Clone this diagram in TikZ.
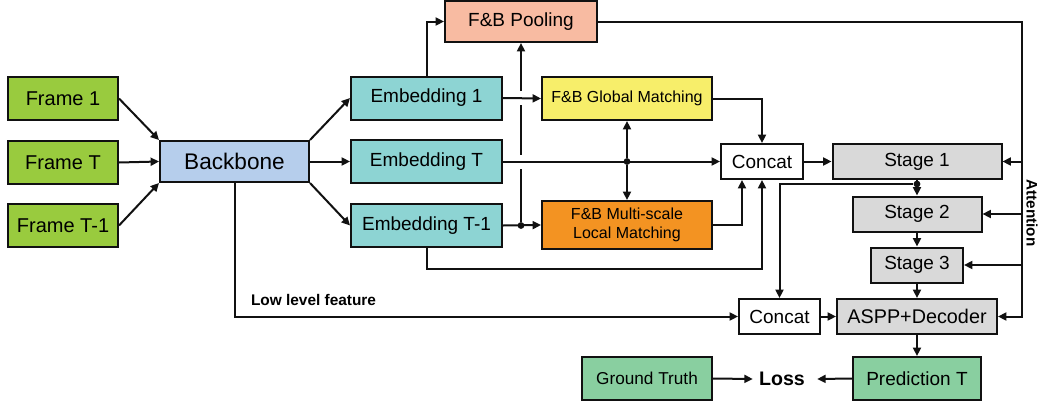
\documentclass[tikz,border=0pt]{standalone}
\usepackage{fontspec}
\setmainfont{Liberation Sans}
\usetikzlibrary{arrows.meta,calc}
\definecolor{ink}{HTML}{111111}
\definecolor{framegreen}{HTML}{99CB3E}
\definecolor{backblue}{HTML}{B6CEEC}
\definecolor{embteal}{HTML}{8DD4D3}
\definecolor{poolsalmon}{HTML}{F8BBA2}
\definecolor{globyellow}{HTML}{F7EE6A}
\definecolor{localorange}{HTML}{F39322}
\definecolor{stagegray}{HTML}{D9D9D9}
\definecolor{outgreen}{HTML}{89CFA0}
\tikzset{
  blockbox/.style={draw=ink,line width=1pt,inner sep=0pt,align=center,
                   font=\fontsize{9.5}{11}\selectfont},
  framebox/.style={blockbox,fill=framegreen,minimum width=55pt,minimum height=21.5pt,
                   font=\fontsize{10}{12}\selectfont},
  embbox/.style={blockbox,fill=embteal,minimum width=75.5pt,minimum height=21.5pt},
  matchbox/.style={blockbox,minimum width=85pt,font=\fontsize{8}{9.5}\selectfont},
  catbox/.style={blockbox,fill=white,minimum width=41pt,minimum height=17.5pt},
  stagebox/.style={blockbox,fill=stagegray,minimum height=17.5pt},
  outbox/.style={blockbox,fill=outgreen,minimum width=64pt,minimum height=21.5pt},
  flowarr/.style={-{Triangle[length=4.2pt,width=4pt]},line width=1pt,draw=ink},
  plainline/.style={line width=1pt,draw=ink},
  joint/.style={circle,fill=ink,inner sep=0pt,minimum size=3.4pt}
}
\begin{document}
\begin{tikzpicture}[x=0.5pt,y=-0.5pt]
  \useasboundingbox (0,0) rectangle (1039,402);
  \node[framebox] (frame1) at (63,98.5) {Frame 1};
  \node[framebox] (frameT) at (63,162.5) {Frame T};
  \node[framebox] (frameTm) at (63,225.5) {Frame T-1};
  \node[blockbox,fill=backblue,minimum width=74.5pt,minimum height=20.5pt,
        font=\fontsize{11.3}{13}\selectfont] (backbone) at (234.5,161.5) {Backbone};
  \node[embbox] (emb1) at (426.5,98) {Embedding 1};
  \node[embbox] (embT) at (426.5,161.5) {Embedding T};
  \node[embbox] (embTm) at (426.5,225.5) {Embedding T-1};
  \node[blockbox,fill=poolsalmon,minimum width=76pt,minimum height=20.5pt] (pool) at (521,21.5) {F\&B Pooling};
  \node[matchbox,fill=globyellow,minimum height=21.5pt] (glob) at (627,98.5) {F\&B Global Matching};
  \node[matchbox,fill=localorange,minimum height=24pt] (local) at (627,225) {F\&B Multi-scale\\Local Matching};
  \node[catbox] (concatA) at (762,161.5) {Concat};
  \node[stagebox,minimum width=84.5pt] (stage1) at (917,161.5) {Stage 1};
  \node[stagebox,minimum width=64.5pt] (stage2) at (917,214) {Stage 2};
  \node[stagebox,minimum width=46pt] (stage3) at (917,265) {Stage 3};
  \node[catbox,minimum width=40.5pt] (concatB) at (779.5,316.5) {Concat};
  \node[stagebox,minimum width=80pt,font=\fontsize{9.9}{11}\selectfont] (aspp) at (917,316.5) {ASPP+Decoder};
  \node[outbox] (pred) at (917,378.5) {Prediction T};
  \node[outbox,minimum width=65pt,font=\fontsize{8.6}{10}\selectfont] (gt) at (647,378.5) {Ground Truth};
  \node[inner sep=3pt,font=\fontsize{9.8}{11}\bfseries] (loss) at (782,379) {Loss};
  \coordinate (rail) at (1022,0);

  \draw[flowarr] (frame1.east) -- (backbone.north west);
  \draw[flowarr] (frameT.east) -- (backbone.west);
  \draw[flowarr] (frameTm.east) -- (backbone.south west);
  \draw[flowarr] (backbone.north east) -- (emb1.west);
  \draw[flowarr] (backbone.east) -- (embT.west);
  \draw[flowarr] (backbone.south east) -- (embTm.west);
  \draw[flowarr] (emb1.north) |- (pool.west);
  \draw[flowarr] (emb1.east) -- (glob.west);
  \draw[flowarr] (embTm.east) -- (local.west);
  \draw[flowarr] (embT.east) -- (concatA.west);

  \node[joint] (jb) at (pool.south |- embTm.east) {};
  \draw[plainline] (jb) -- ($(jb |- embT.east)+(0,7)$);
  \draw[plainline] ($(jb |- embT.east)+(0,-7)$) -- ($(jb |- emb1.east)+(0,7)$);
  \draw[flowarr] ($(jb |- emb1.east)+(0,-7)$) -- (pool.south);

  \node[joint] (jt) at (glob.south |- embT.east) {};
  \draw[flowarr] (jt) -- (glob.south);
  \draw[flowarr] (jt) -- (local.north);
  \draw[flowarr] (glob.east) -| (concatA.north);
  \draw[flowarr] (local.east) -| ([xshift=-10pt]concatA.south);
  \draw[flowarr] (embTm.south) -- ++(0,21) -| (concatA.south);
  \draw[flowarr] (concatA.east) -- (stage1.west);

  \node[joint] (js) at ($(stage1.south)+(0,4)$) {};
  \draw[flowarr] (stage1.south) -- (stage2.north);
  \draw[flowarr] (js) -| (concatB.north);
  \draw[flowarr] (stage2.south) -- (stage3.north);
  \draw[flowarr] (stage3.south) -- (aspp.north);
  \draw[flowarr] (backbone.south) |- (concatB.west);
  \node[anchor=west,font=\fontsize{7.7}{9}\bfseries] (lowlab) at (244,300) {Low level feature};
  \draw[flowarr] (concatB.east) -- (aspp.west);
  \draw[flowarr] (aspp.south) -- (pred.north);
  \draw[flowarr] (gt.east) -- (loss.west);
  \draw[flowarr] (pred.west) -- ([xshift=3pt]loss.east);

  \draw[flowarr] (pool.east) -| (rail |- aspp.east) -- (aspp.east);
  \foreach \s in {stage1,stage2,stage3}
    \draw[flowarr] (rail |- \s.east) -- (\s.east);
  \node[rotate=-90,font=\fontsize{7.6}{9}\bfseries] (attn) at (1032,213) {Attention};
\end{tikzpicture}
\end{document}
